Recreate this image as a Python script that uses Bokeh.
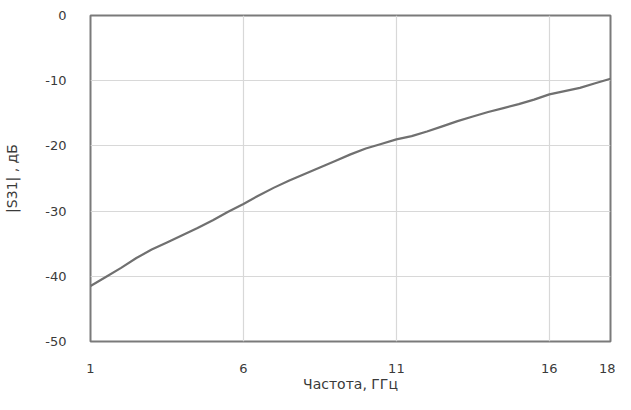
from bokeh.plotting import figure
from bokeh.models import FixedTicker, ColumnDataSource, PrintfTickFormatter
from bokeh.embed import file_html
from bokeh.resources import INLINE

freq = [1, 1.5, 2, 2.5, 3, 3.5, 4, 4.5, 5, 5.5, 6, 6.5, 7, 7.5, 8, 8.5, 9, 9.5,
        10, 10.5, 11, 11.5, 12, 12.5, 13, 13.5, 14, 14.5, 15, 15.5, 16, 16.5, 17, 17.5, 18]
s31 = [-41.5, -40.1, -38.7, -37.2, -35.9, -34.8, -33.7, -32.6, -31.4, -30.1, -28.9, -27.6,
       -26.4, -25.3, -24.3, -23.3, -22.3, -21.3, -20.4, -19.7, -19.0, -18.5, -17.8, -17.0,
       -16.2, -15.5, -14.8, -14.2, -13.6, -12.9, -12.1, -11.6, -11.1, -10.4, -9.7]
x_ticks = [1, 6, 11, 16, 18]
y_ticks = [-50, -40, -30, -20, -10, 0]

src = ColumnDataSource(dict(f=freq, s=s31))

p = figure(width=615, height=394, output_backend="svg", toolbar_location=None,
           x_range=(1, 18), y_range=(-50, 0),
           min_border_left=90, min_border_right=5, min_border_top=15, min_border_bottom=52)

p.line("f", "s", source=src, line_color="#707070", line_width=2.2)

p.outline_line_color = "#7a7a7a"
p.outline_line_width = 2
p.background_fill_color = "white"
p.border_fill_color = "white"

p.xaxis.ticker = FixedTicker(ticks=x_ticks)
p.yaxis.ticker = FixedTicker(ticks=y_ticks)
p.xaxis.formatter = PrintfTickFormatter(format="%d")
p.yaxis.formatter = PrintfTickFormatter(format="%d")
p.xgrid.ticker = FixedTicker(ticks=x_ticks)
p.ygrid.ticker = FixedTicker(ticks=y_ticks)
p.xgrid.grid_line_color = "#d8d8d8"
p.ygrid.grid_line_color = "#d8d8d8"
p.xgrid.grid_line_width = 1.2
p.ygrid.grid_line_width = 1.2

for ax in (p.xaxis, p.yaxis):
    ax.axis_line_color = None
    ax.major_tick_line_color = None
    ax.minor_tick_line_color = None
    ax.major_label_text_font = "DejaVu Sans"
    ax.major_label_text_font_size = "13px"
    ax.major_label_text_color = "#3a3a3a"
    ax.axis_label_text_font = "DejaVu Sans"
    ax.axis_label_text_font_size = "14px"
    ax.axis_label_text_font_style = "normal"
    ax.axis_label_text_color = "#3a3a3a"

p.xaxis.axis_label = "Частота, ГГц"
p.yaxis.axis_label = "|S31| , дБ"
p.xaxis.major_label_standoff = 16
p.yaxis.major_label_standoff = 18
p.xaxis.axis_label_standoff = 0
p.yaxis.axis_label_standoff = 22

open("out.html", "w").write(file_html(p, INLINE))
